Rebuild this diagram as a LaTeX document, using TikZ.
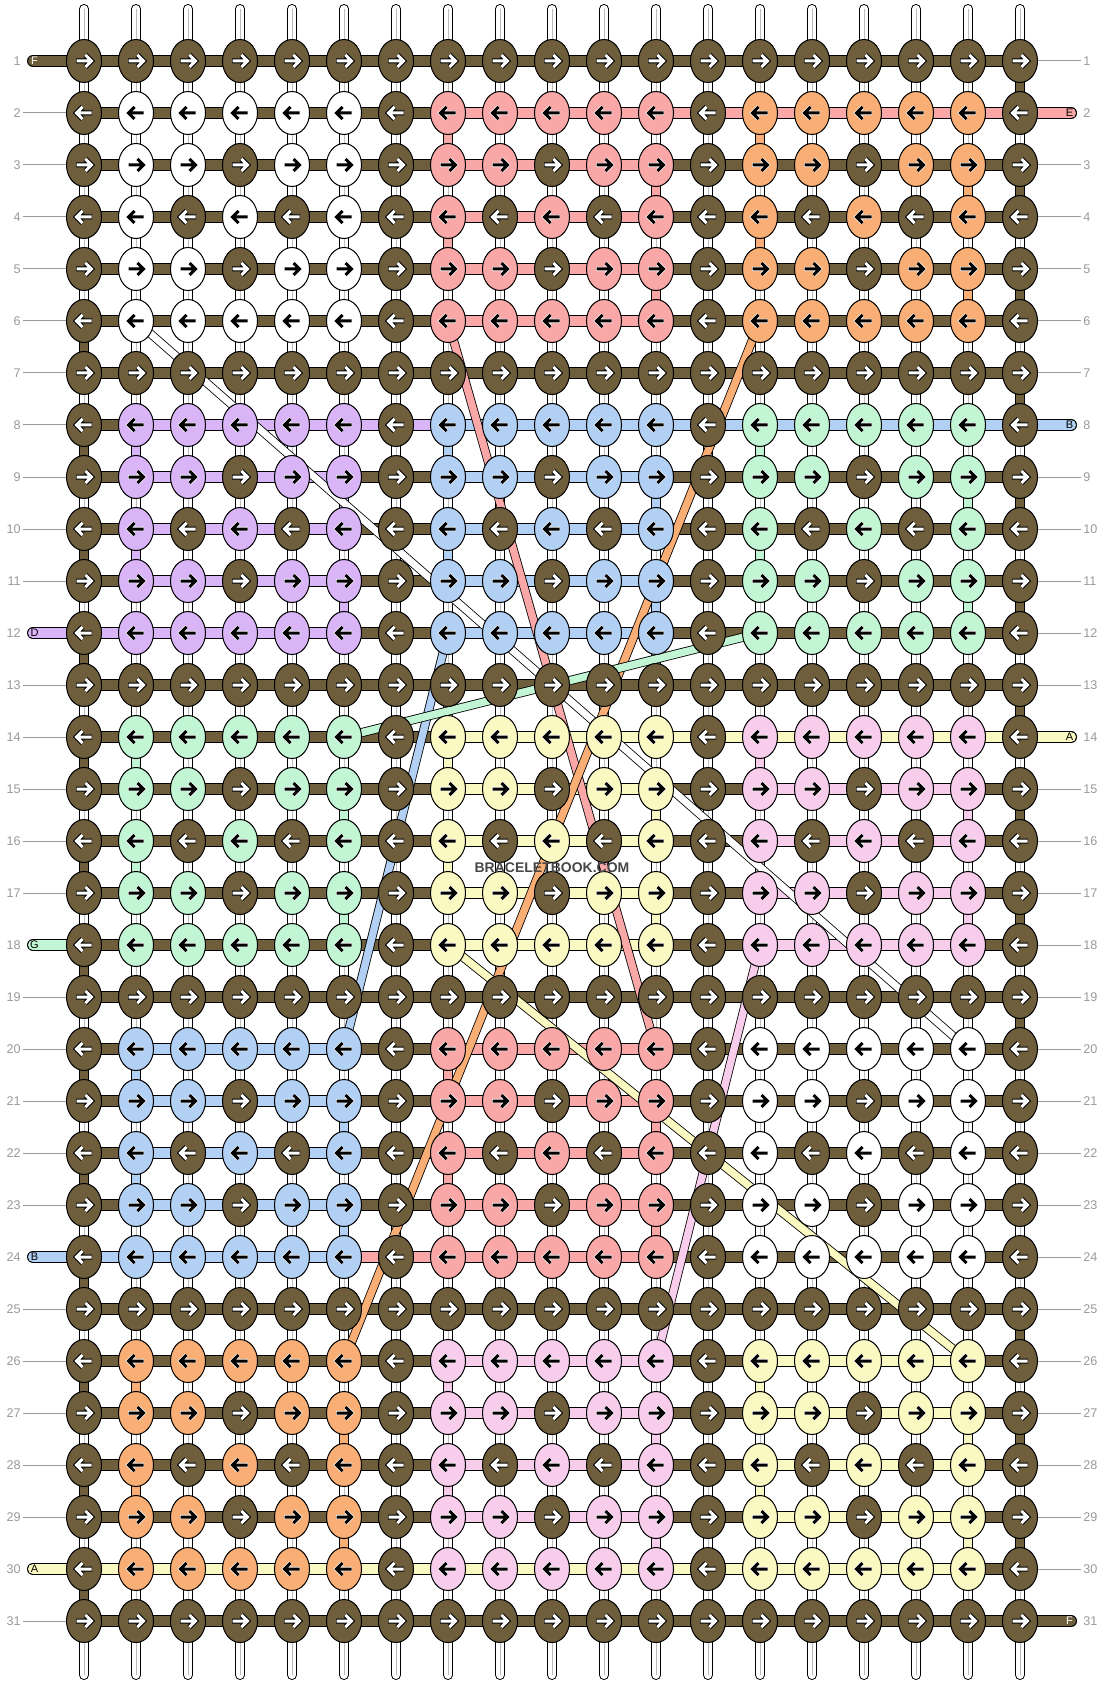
\documentclass[tikz,border=0pt]{standalone}
\usepackage{fontspec}
\setmainfont{Liberation Sans}
\usetikzlibrary{shapes.geometric}
\definecolor{brn}{HTML}{6E5E3C}
\definecolor{sal}{HTML}{F9A7A7}
\definecolor{org}{HTML}{F8AE74}
\definecolor{pur}{HTML}{D9B5F7}
\definecolor{blu}{HTML}{B1D0F3}
\definecolor{grn}{HTML}{C2F5D3}
\definecolor{yel}{HTML}{FBF9C2}
\definecolor{lpk}{HTML}{F8CDEB}
\definecolor{lbl}{HTML}{9A9A9A}
\definecolor{wgrey}{HTML}{BBBBBB}
% block knot colours
\colorlet{b00}{white}\colorlet{b01}{sal}\colorlet{b02}{org}
\colorlet{b10}{pur}\colorlet{b11}{blu}\colorlet{b12}{grn}
\colorlet{b20}{grn}\colorlet{b21}{yel}\colorlet{b22}{lpk}
\colorlet{b30}{blu}\colorlet{b31}{sal}\colorlet{b32}{white}
\colorlet{b40}{org}\colorlet{b41}{lpk}\colorlet{b42}{yel}
% block horizontal string colours
\colorlet{s00}{brn}\colorlet{s01}{sal}\colorlet{s02}{brn}
\colorlet{s10}{pur}\colorlet{s11}{blu}\colorlet{s12}{brn}
\colorlet{s20}{brn}\colorlet{s21}{yel}\colorlet{s22}{lpk}
\colorlet{s30}{blu}\colorlet{s31}{sal}\colorlet{s32}{brn}
\colorlet{s40}{brn}\colorlet{s41}{lpk}\colorlet{s42}{yel}

\newcommand\KnotInfo[2]{%
  \pgfmathtruncatemacro\Kcm{mod(#2-1,6)}%
  \pgfmathtruncatemacro\Krm{mod(#1-1,6)}%
  \def\Kcol{brn}\def\Kbrown{1}%
  \ifnum\Kcm>0 \ifnum\Krm>0
    \pgfmathtruncatemacro\Ki{\Krm-1}%
    \pgfmathtruncatemacro\Kj{\Kcm-1}%
    \pgfmathtruncatemacro\KBr{div(#1-2,6)}%
    \pgfmathtruncatemacro\KBc{div(#2-2,6)}%
    \pgfmathtruncatemacro\Kd{abs(\Ki-2)+abs(\Kj-2)}%
    \ifnum\Kd=1 \else \edef\Kcol{b\KBr\KBc}\def\Kbrown{0}\fi
  \fi\fi}

\newcommand\HsegInfo[2]{%
  \def\Hcol{brn}%
  \pgfmathtruncatemacro\Krm{mod(#1-1,6)}%
  \pgfmathtruncatemacro\Kcm{mod(#2-1,6)}%
  \ifnum\Krm>0 \ifnum\Kcm>0 \ifnum\Kcm<5
    \pgfmathtruncatemacro\KBr{div(#1-2,6)}%
    \pgfmathtruncatemacro\KBc{div(#2-2,6)}%
    \edef\Hcol{s\KBr\KBc}%
  \fi\fi\fi}

\newcommand\VsegInfo[2]{%
  \def\Vdraw{0}\def\Vcol{brn}%
  \ifnum#2=1 \ifodd#1 \else\def\Vdraw{1}\fi\fi
  \ifnum#2=19 \ifodd#1 \def\Vdraw{1}\fi\fi
  \pgfmathtruncatemacro\Krm{mod(#1-1,6)}%
  \pgfmathtruncatemacro\Kcm{mod(#2-1,6)}%
  \ifnum\Krm>0 \ifnum\Krm<5
    \pgfmathtruncatemacro\Ki{\Krm-1}%
    \pgfmathtruncatemacro\KBr{div(#1-2,6)}%
    \pgfmathtruncatemacro\KBc{div(#2-2,6)}%
    \ifnum\Kcm=1 \ifodd\Ki \else \def\Vdraw{1}\edef\Vcol{b\KBr\KBc}\fi\fi
    \ifnum\Kcm=5 \ifodd\Ki \def\Vdraw{1}\edef\Vcol{b\KBr\KBc}\fi\fi
    \ifnum\KBr\KBc=0 \def\Vdraw{0}\fi
    \ifnum\KBr\KBc=32 \def\Vdraw{0}\fi
  \fi\fi}

\newcommand\hov[4]{%
  \foreach \cc in {#2,...,#3}{%
    \pgfmathtruncatemacro\cn{\cc+1}%
    \draw[hsegout] (p-#1-\cc) -- (p-#1-\cn);
    \draw[hseg,#4] (p-#1-\cc) -- (p-#1-\cn);}}

\newcommand\lend[4]{%
  \coordinate (le-#1) at (33,{61+52*(#1-1)});
  \draw[hsegout,line cap=round] (le-#1) -- (p-#1-1);
  \draw[hseg,#2,line cap=round] (le-#1) -- (p-#1-1);
  \node[endlbl,text=#4] (lt-#1) at (34.5,{61+52*(#1-1)}) {#3};}

\newcommand\rend[4]{%
  \coordinate (re-#1) at (1071,{61+52*(#1-1)});
  \draw[hsegout,line cap=round] (p-#1-19) -- (re-#1);
  \draw[hseg,#2,line cap=round] (p-#1-19) -- (re-#1);
  \node[endlbl,text=#4] (rt-#1) at (1069.5,{61+52*(#1-1)}) {#3};}

\begin{document}
\begin{tikzpicture}[x=0.5pt,y=-0.5pt,
  knot/.style={ellipse,draw=black,line width=0.5pt,minimum width=17.5pt,minimum height=21.5pt,inner sep=0pt},
  hsegout/.style={black,line width=6pt},
  hseg/.style={line width=5pt},
  vsegout/.style={black,line width=5pt},
  vseg/.style={line width=4pt},
  diagout/.style={black,line width=4.5pt},
  diag/.style={line width=3.7pt},
  arrowline/.style={line join=miter,line cap=butt},
  lblnum/.style={font=\fontsize{6.3pt}{7pt}\selectfont,text=lbl,inner sep=1pt},
  lblline/.style={lbl,line width=0.5pt},
  endlbl/.style={font=\fontsize{5.5pt}{6pt}\selectfont,inner sep=0pt}]
\fill[white] (0,0) rectangle (1104,1684);
\useasboundingbox (0,0) rectangle (1104,1684);

% grid coordinates
\foreach \rr in {1,...,31}{\foreach \cc in {1,...,19}{%
  \coordinate (p-\rr-\cc) at ({84+52*(\cc-1)},{61+52*(\rr-1)});}}

% warp strings
\foreach \cc in {1,...,19}{%
  \coordinate (wt-\cc) at ({84+52*(\cc-1)},9);
  \coordinate (wb-\cc) at ({84+52*(\cc-1)},1675);
  \draw[black,line width=5pt,line cap=round] (wt-\cc) -- (wb-\cc);
  \draw[white,line width=4pt,line cap=round] (wt-\cc) -- (wb-\cc);
  \draw[wgrey,line width=0.5pt] (wt-\cc) -- (wb-\cc);}

% coloured vertical turns
\foreach \rr in {1,...,30}{\foreach \cc in {1,...,19}{%
  \VsegInfo{\rr}{\cc}%
  \ifnum\Vdraw=1
    \pgfmathtruncatemacro\rn{\rr+1}%
    \draw[vsegout] (p-\rr-\cc) -- (p-\rn-\cc);
    \draw[vseg,\Vcol] (p-\rr-\cc) -- (p-\rn-\cc);
  \fi}}

% horizontal strings
\foreach \rr in {1,...,31}{\foreach \cc in {1,...,18}{%
  \HsegInfo{\rr}{\cc}%
  \pgfmathtruncatemacro\cn{\cc+1}%
  \draw[hsegout] (p-\rr-\cc) -- (p-\rr-\cn);
  \draw[hseg,\Hcol] (p-\rr-\cc) -- (p-\rr-\cn);}}
\hov{2}{8}{18}{sal}
\hov{8}{6}{7}{pur}
\hov{8}{8}{18}{blu}
\hov{12}{1}{1}{pur}
\hov{14}{8}{18}{yel}
\hov{24}{1}{1}{blu}
\hov{24}{6}{7}{sal}
\hov{30}{1}{17}{yel}

% string ends
\lend{1}{brn}{F}{white}
\lend{12}{pur}{D}{black}
\lend{18}{grn}{G}{black}
\lend{24}{blu}{B}{black}
\lend{30}{yel}{A}{black}
\rend{2}{sal}{E}{black}
\rend{8}{blu}{B}{black}
\rend{14}{yel}{A}{black}
\rend{31}{brn}{F}{white}

% diagonal carried strings
\draw[diagout] (p-6-8) -- (p-20-12);   \draw[diag,sal] (p-6-8) -- (p-20-12);
\draw[diagout] (p-6-14) -- (p-26-6);   \draw[diag,org] (p-6-14) -- (p-26-6);
\draw[diagout] (p-12-8) -- (p-20-6);   \draw[diag,blu] (p-12-8) -- (p-20-6);
\draw[diagout] (p-12-14) -- (p-14-6);  \draw[diag,grn] (p-12-14) -- (p-14-6);
\draw[diagout] (p-18-8) -- (p-26-18);  \draw[diag,yel] (p-18-8) -- (p-26-18);
\draw[diagout] (p-18-14) -- (p-26-12); \draw[diag,lpk] (p-18-14) -- (p-26-12);
\draw[black,line width=4.3pt] (p-6-2) -- (p-20-18);
\draw[white,line width=3.5pt] (p-6-2) -- (p-20-18);

% knots with arrows
\foreach \rr in {1,...,31}{\foreach \cc in {1,...,19}{%
  \KnotInfo{\rr}{\cc}%
  \node[knot,fill=\Kcol] (k-\rr-\cc) at (p-\rr-\cc) {};
  \ifodd\rr \def\dd{1}\else\def\dd{-1}\fi
  \ifnum\Kbrown=1
    \draw[arrowline,black,line width=2.5pt,shift={(p-\rr-\cc)}] ({-8*\dd},0) -- ({6.5*\dd},0) ({1.5*\dd},-6) -- ({7.5*\dd},0) -- ({1.5*\dd},6);
    \draw[arrowline,white,line width=1.5pt,shift={(p-\rr-\cc)}] ({-7.5*\dd},0) -- ({6.5*\dd},0) ({1.5*\dd},-6) -- ({7.5*\dd},0) -- ({1.5*\dd},6);
  \else
    \draw[arrowline,white,line width=2.2pt,shift={(p-\rr-\cc)}] ({-8*\dd},0) -- ({6.5*\dd},0) ({1.5*\dd},-6) -- ({7.5*\dd},0) -- ({1.5*\dd},6);
    \draw[arrowline,black,line width=1.5pt,shift={(p-\rr-\cc)}] ({-7.5*\dd},0) -- ({6.5*\dd},0) ({1.5*\dd},-6) -- ({7.5*\dd},0) -- ({1.5*\dd},6);
  \fi}}

% row numbers
\foreach \rr in {1,...,31}{%
  \node[lblnum,anchor=east] (ln-\rr) at (23,{61+52*(\rr-1)}) {\rr};
  \node[lblnum,anchor=west] (rn-\rr) at (1081,{61+52*(\rr-1)}) {\rr};}
\foreach \rr in {2,3,4,5,6,7,8,9,10,11,13,14,15,16,17,19,20,21,22,23,25,26,27,28,29,31}{%
  \draw[lblline] (ln-\rr.east) -- (k-\rr-1.west);}
\foreach \rr in {1,3,4,5,6,7,9,10,11,12,13,15,16,17,18,19,20,21,22,23,24,25,26,27,28,29,30}{%
  \draw[lblline] (k-\rr-19.east) -- (rn-\rr.west);}

% watermark
\node[font=\bfseries\fontsize{7pt}{8pt}\selectfont,text=black!72,inner sep=0pt] (wm) at (552,868) {BRACELETBOOK.COM};
\end{tikzpicture}
\end{document}
